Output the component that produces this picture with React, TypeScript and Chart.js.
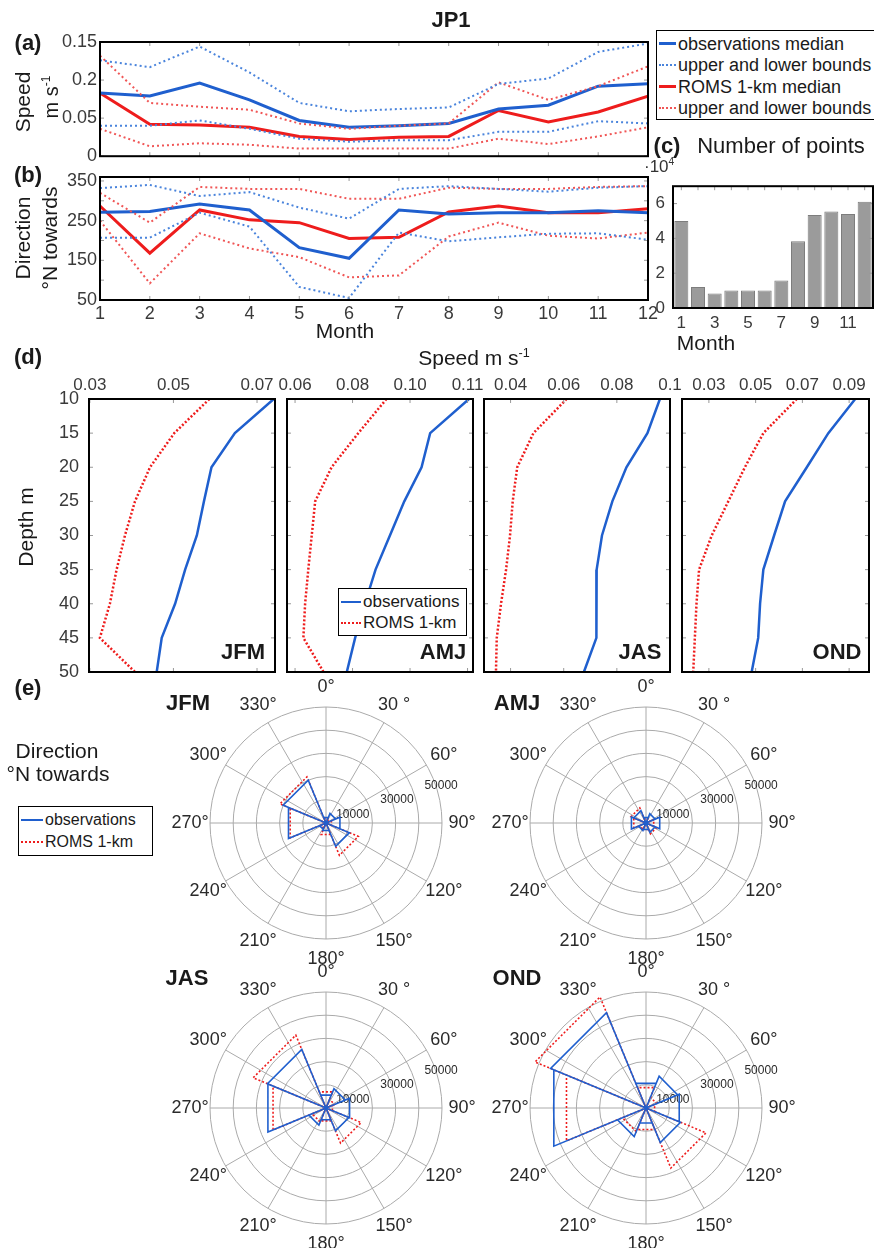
import React, { useEffect, useRef } from 'react';
import { Chart, registerables } from 'chart.js';
Chart.register(...registerables);

const FONT = '"Liberation Sans", Arial, sans-serif';
Chart.defaults.font.family = FONT;
Chart.defaults.color = '#333';

const BLUE = '#1f5fce';
const RED = '#ee1c1c';
const BLUE_DOT = '#4a84dc';
const RED_DOT = '#f05656';

// ---------- (a) speed ----------
const months = [1, 2, 3, 4, 5, 6, 7, 8, 9, 10, 11, 12];
const speedTickValues = [0, 0.05, 0.1, 0.15];
const speedTickLabels = ['0', '0.05', '0.2', '0.15'];
const obsSpeedMedian = [0.083, 0.079, 0.096, 0.074, 0.047, 0.038, 0.040, 0.043, 0.062, 0.067, 0.092, 0.095];
const obsSpeedUpper = [0.126, 0.117, 0.144, 0.110, 0.070, 0.059, 0.062, 0.064, 0.095, 0.102, 0.137, 0.148];
const obsSpeedLower = [0.040, 0.040, 0.047, 0.036, 0.023, 0.019, 0.021, 0.021, 0.032, 0.032, 0.046, 0.043];
const romsSpeedMedian = [0.083, 0.042, 0.041, 0.038, 0.026, 0.022, 0.025, 0.026, 0.060, 0.045, 0.058, 0.079];
const romsSpeedUpper = [0.132, 0.070, 0.065, 0.061, 0.043, 0.036, 0.040, 0.043, 0.097, 0.074, 0.092, 0.118];
const romsSpeedLower = [0.036, 0.013, 0.017, 0.015, 0.010, 0.010, 0.010, 0.010, 0.023, 0.016, 0.026, 0.038];

// ---------- (b) direction ----------
const dirTickValues = [50, 150, 250, 350];
const dirMinorTicks = [100, 200, 300];
const obsDirMedian = [271, 273, 292, 277, 182, 155, 277, 267, 270, 270, 275, 270];
const obsDirUpper = [332, 340, 312, 322, 283, 255, 330, 337, 330, 323, 333, 337];
const obsDirLower = [207, 207, 270, 235, 83, 55, 220, 198, 208, 217, 218, 202];
const romsDirMedian = [287, 168, 277, 252, 245, 205, 208, 272, 287, 270, 270, 280];
const romsDirUpper = [320, 245, 335, 330, 330, 305, 305, 333, 330, 330, 335, 337];
const romsDirLower = [250, 92, 218, 180, 158, 107, 112, 210, 245, 212, 205, 220];

// ---------- (c) number of points ----------
const pointCounts = [50000, 12000, 8300, 10000, 10000, 10000, 15800, 38400, 53500, 55400, 54000, 61000];
const countTickValues = [0, 20000, 40000, 60000];
const countTickLabels = ['0', '2', '4', '6'];

// ---------- (d) depth profiles ----------
const depths = [10, 15, 20, 25, 30, 35, 40, 45, 50];
const jfmObs = [0.0740, 0.0647, 0.0591, 0.0573, 0.0556, 0.0528, 0.0504, 0.0472, 0.0460];
const jfmRoms = [0.0586, 0.0502, 0.0444, 0.0408, 0.0384, 0.0364, 0.0348, 0.0324, 0.0408];
const amjObs = [0.1205, 0.107, 0.104, 0.098, 0.093, 0.088, 0.0843, 0.0809, 0.078];
const amjRoms = [0.0918, 0.082, 0.0727, 0.067, 0.0658, 0.0646, 0.0635, 0.0629, 0.0699];
const jasObs = [0.0962, 0.0915, 0.0836, 0.0783, 0.0744, 0.0724, 0.0724, 0.0722, 0.0676];
const jasRoms = [0.0611, 0.0486, 0.0425, 0.0408, 0.0398, 0.0383, 0.0364, 0.0348, 0.0345];
const ondObs = [0.0926, 0.0811, 0.0719, 0.0626, 0.0579, 0.0533, 0.0519, 0.0511, 0.0483];
const ondRoms = [0.0676, 0.0533, 0.0454, 0.0383, 0.0312, 0.0258, 0.0247, 0.0240, 0.0233];
const jfmSpeedTicks = [0.03, 0.05, 0.07];
const jfmSpeedLabels = ['0.03', '0.05', '0.07'];
const amjSpeedTicks = [0.06, 0.08, 0.10, 0.12];
const amjSpeedLabels = ['0.06', '0.08', '0.10', '0.11'];
const jasSpeedTicks = [0.04, 0.06, 0.08, 0.1];
const jasSpeedLabels = ['0.04', '0.06', '0.08', '0.1'];
const ondSpeedTicks = [0.03, 0.05, 0.07, 0.09];
const ondSpeedLabels = ['0.03', '0.05', '0.07', '0.09'];

// ---------- (e) rose histograms (8 bins, centers 0,45,...,315 deg) ----------
const roseBinCenters = [0, 45, 90, 135, 180, 225, 270, 315];
const jfmRoseObs = [2500, 4500, 6500, 10900, 3500, 3000, 17500, 20000];
const jfmRoseRoms = [2000, 1500, 2500, 15100, 5400, 2500, 16700, 21500];
const amjRoseObs = [2500, 4300, 6400, 4300, 3000, 3500, 6800, 5700];
const amjRoseRoms = [2000, 2000, 3600, 5000, 3000, 3000, 5700, 7000];
const jasRoseObs = [6000, 9000, 11000, 10700, 5500, 8000, 27100, 27300];
const jasRoseRoms = [7500, 4000, 3000, 16400, 6000, 6500, 24700, 34000];
const ondRoseObs = [11500, 14800, 15500, 16100, 7000, 13300, 43000, 44500];
const ondRoseRoms = [9500, 5000, 4000, 28000, 10000, 11000, 37100, 51800];
const roseRings = [10000, 20000, 30000, 40000, 50000];
const roseRingLabels = [10000, 30000, 50000];
const roseSpokes = [0, 30, 60, 90, 120, 150, 180, 210, 240, 270, 300, 330];
const roseAngleLabels = ['0°', '30 °', '60°', '90°', '120°', '150°', '180°', '210°', '240°', '270°', '300°', '330°'];

// ---------- helpers ----------
const fixedWidth = (w: number) => (s: any) => { s.width = w; };
const fixedHeight = (h: number) => (s: any) => { s.height = h; };
const explicitTicks = (vals: number[]) => (s: any) => { s.ticks = vals.map((v) => ({ value: v })); };
const noGrid = { display: false, drawTicks: false };
const noBorder = { display: false };

function framePlugin(opts: { xTicks?: number[]; yTicks?: number[]; len?: number }) {
  return {
    id: 'frame',
    afterDatasetsDraw(chart: any) {
      const { ctx, chartArea: a, scales } = chart;
      const L = opts.len ?? 4;
      ctx.save();
      ctx.strokeStyle = '#999';
      ctx.lineWidth = 1;
      const seg = (x1: number, y1: number, x2: number, y2: number) => {
        ctx.beginPath(); ctx.moveTo(x1, y1); ctx.lineTo(x2, y2); ctx.stroke();
      };
      (opts.xTicks || []).forEach((v) => {
        const px = scales.x.getPixelForValue(v);
        seg(px, a.top, px, a.top + L);
        seg(px, a.bottom, px, a.bottom - L);
      });
      (opts.yTicks || []).forEach((v) => {
        const py = scales.y.getPixelForValue(v);
        seg(a.left, py, a.left + L, py);
        seg(a.right, py, a.right - L, py);
      });
      ctx.strokeStyle = '#000';
      ctx.lineWidth = 2;
      ctx.strokeRect(a.left, a.top, a.right - a.left, a.bottom - a.top);
      ctx.restore();
    },
  };
}

const monthPts = (ys: number[]) => months.map((m, i) => ({ x: m, y: ys[i] }));
const lineDs = (ys: number[], color: string, dotted: boolean) => ({
  data: monthPts(ys),
  borderColor: color,
  borderWidth: dotted ? 2 : 3,
  borderDash: dotted ? [2, 3] : [],
  pointRadius: 0,
  tension: 0,
  fill: false,
});

const baseOpts = {
  animation: false,
  responsive: false,
  events: [],
  plugins: { legend: { display: false }, tooltip: { enabled: false } },
};

function speedConfig(): any {
  return {
    type: 'line',
    data: {
      datasets: [
        lineDs(obsSpeedUpper, BLUE_DOT, true),
        lineDs(obsSpeedLower, BLUE_DOT, true),
        lineDs(romsSpeedUpper, RED_DOT, true),
        lineDs(romsSpeedLower, RED_DOT, true),
        lineDs(obsSpeedMedian, BLUE, false),
        lineDs(romsSpeedMedian, RED, false),
      ],
    },
    options: {
      ...baseOpts,
      layout: { padding: { left: 0, right: 14, top: 18, bottom: 6 } },
      scales: {
        x: { type: 'linear', display: false, min: 1, max: 12 },
        y: {
          min: 0, max: 0.15,
          afterBuildTicks: explicitTicks(speedTickValues),
          afterFit: fixedWidth(60),
          ticks: { padding: 3, font: { size: 18 }, color: '#3a3a3a', callback: (_v: any, i: number) => speedTickLabels[i] },
          grid: noGrid, border: noBorder,
        },
      },
    },
    plugins: [framePlugin({ xTicks: months, yTicks: speedTickValues })],
  };
}

function dirConfig(): any {
  return {
    type: 'line',
    data: {
      datasets: [
        lineDs(obsDirUpper, BLUE_DOT, true),
        lineDs(obsDirLower, BLUE_DOT, true),
        lineDs(romsDirUpper, RED_DOT, true),
        lineDs(romsDirLower, RED_DOT, true),
        lineDs(obsDirMedian, BLUE, false),
        lineDs(romsDirMedian, RED, false),
      ],
    },
    options: {
      ...baseOpts,
      layout: { padding: { left: 0, right: 14, top: 17, bottom: 0 } },
      scales: {
        x: {
          type: 'linear', min: 1, max: 12,
          afterBuildTicks: explicitTicks(months),
          afterFit: fixedHeight(40),
          ticks: { autoSkip: false, maxRotation: 0, padding: 3, font: { size: 18 }, color: '#3a3a3a', callback: (_v: any, i: number) => String(months[i]) },
          grid: noGrid, border: noBorder,
        },
        y: {
          min: 50, max: 360,
          afterBuildTicks: explicitTicks(dirTickValues),
          afterFit: fixedWidth(60),
          ticks: { padding: 3, font: { size: 18 }, color: '#3a3a3a', callback: (_v: any, i: number) => String(dirTickValues[i]) },
          grid: noGrid, border: noBorder,
        },
      },
    },
    plugins: [framePlugin({ xTicks: months, yTicks: [...dirTickValues, ...dirMinorTicks] })],
  };
}

function countConfig(): any {
  return {
    type: 'bar',
    data: {
      labels: months.map(String),
      datasets: [{
        data: pointCounts,
        backgroundColor: '#9b9b9b',
        borderColor: '#7d7d7d',
        borderWidth: 1,
        barPercentage: 0.84,
        categoryPercentage: 1,
      }],
    },
    options: {
      ...baseOpts,
      layout: { padding: { left: 0, right: 1, top: 16, bottom: 0 } },
      scales: {
        x: {
          afterFit: fixedHeight(28),
          ticks: { autoSkip: false, maxRotation: 0, padding: 5, font: { size: 17 }, color: '#3a3a3a', callback: (_v: any, i: number) => (i % 2 === 0 ? String(months[i]) : '') },
          grid: noGrid, border: noBorder,
        },
        y: {
          min: 0, max: 70000,
          afterBuildTicks: explicitTicks(countTickValues),
          afterFit: fixedWidth(43),
          ticks: { padding: 8, font: { size: 17 }, color: '#3a3a3a', callback: (_v: any, i: number) => countTickLabels[i] },
          grid: noGrid, border: noBorder,
        },
      },
    },
    plugins: [framePlugin({ xTicks: months.map((_m, i) => i), yTicks: countTickValues })],
  };
}

function depthConfig(obs: number[], roms: number[], min: number, max: number, ticks: number[], labels: string[], showY: boolean): any {
  const prof = (vals: number[]) => depths.map((d, i) => ({ x: vals[i], y: d }));
  return {
    type: 'line',
    data: {
      datasets: [
        { data: prof(obs), borderColor: BLUE, borderWidth: 2.5, pointRadius: 0, tension: 0, fill: false },
        { data: prof(roms), borderColor: RED, borderWidth: 2.5, borderDash: [2, 2], pointRadius: 0, tension: 0, fill: false },
      ],
    },
    options: {
      ...baseOpts,
      layout: { padding: { left: showY ? 0 : 22, right: 22, top: 0, bottom: 22 } },
      scales: {
        x: {
          type: 'linear', position: 'top', min, max,
          afterBuildTicks: explicitTicks(ticks),
          afterFit: fixedHeight(29),
          ticks: { autoSkip: false, maxRotation: 0, padding: 3, font: { size: 17 }, color: '#3a3a3a', callback: (_v: any, i: number) => labels[i] },
          grid: noGrid, border: noBorder,
        },
        y: showY ? {
          min: 10, max: 50, reverse: true,
          afterBuildTicks: explicitTicks(depths),
          afterFit: fixedWidth(49),
          ticks: { padding: 10, font: { size: 18 }, color: '#3a3a3a', callback: (_v: any, i: number) => String(depths[i]) },
          grid: noGrid, border: noBorder,
        } : { min: 10, max: 50, reverse: true, display: false },
      },
    },
    plugins: [framePlugin({ xTicks: ticks, yTicks: depths })],
  };
}

// rose geometry
const ROSE_MAX = 50000;
const ROSE_R_PX = 116;
const ROSE_W = 340;
const ROSE_H = 320;

function rosePath(counts: number[]) {
  const pts: { x: number; y: number }[] = [{ x: 0, y: 0 }];
  counts.forEach((r, i) => {
    const a1 = ((roseBinCenters[i] - 22.5) * Math.PI) / 180;
    const a2 = ((roseBinCenters[i] + 22.5) * Math.PI) / 180;
    pts.push({ x: r * Math.sin(a1), y: r * Math.cos(a1) }, { x: r * Math.sin(a2), y: r * Math.cos(a2) }, { x: 0, y: 0 });
  });
  return pts;
}

function polarGridPlugin() {
  return {
    id: 'polarGrid',
    beforeDatasetsDraw(chart: any) {
      const { ctx, scales: { x, y } } = chart;
      const cx = x.getPixelForValue(0);
      const cy = y.getPixelForValue(0);
      const rOf = (v: number) => x.getPixelForValue(v) - cx;
      ctx.save();
      ctx.strokeStyle = '#aaaaaa';
      ctx.lineWidth = 1;
      roseRings.forEach((v) => { ctx.beginPath(); ctx.arc(cx, cy, rOf(v), 0, Math.PI * 2); ctx.stroke(); });
      const R = rOf(ROSE_MAX);
      roseSpokes.forEach((a) => {
        const t = (a * Math.PI) / 180;
        ctx.beginPath(); ctx.moveTo(cx, cy); ctx.lineTo(cx + R * Math.sin(t), cy - R * Math.cos(t)); ctx.stroke();
      });
      ctx.fillStyle = '#2a2a2a';
      ctx.textAlign = 'center';
      ctx.textBaseline = 'middle';
      ctx.font = `18px ${FONT}`;
      roseSpokes.forEach((a, i) => {
        const t = (a * Math.PI) / 180;
        const rr = R + 20;
        ctx.fillText(roseAngleLabels[i], cx + rr * Math.sin(t), cy - rr * Math.cos(t));
      });
      ctx.font = `12px ${FONT}`;
      const lt = (72 * Math.PI) / 180;
      roseRingLabels.forEach((v) => {
        const rr = rOf(v) + 5;
        ctx.fillText(String(v), cx + rr * Math.sin(lt), cy - rr * Math.cos(lt));
      });
      ctx.restore();
    },
  };
}

function roseConfig(obs: number[], roms: number[]): any {
  const xHalf = (ROSE_W / 2) * (ROSE_MAX / ROSE_R_PX);
  const yHalf = (ROSE_H / 2) * (ROSE_MAX / ROSE_R_PX);
  return {
    type: 'scatter',
    data: {
      datasets: [
        { data: rosePath(obs), showLine: true, borderColor: BLUE, borderWidth: 1.6, pointRadius: 0, tension: 0, fill: false },
        { data: rosePath(roms), showLine: true, borderColor: RED, borderWidth: 1.6, borderDash: [2, 2], pointRadius: 0, tension: 0, fill: false },
      ],
    },
    options: {
      ...baseOpts,
      layout: { padding: 0 },
      scales: {
        x: { type: 'linear', display: false, min: -xHalf, max: xHalf },
        y: { type: 'linear', display: false, min: -yHalf, max: yHalf },
      },
    },
    plugins: [polarGridPlugin()],
  };
}

// ---------- components ----------
function ChartCanvas({ left, top, width, height, make }: { left: number; top: number; width: number; height: number; make: () => any }) {
  const ref = useRef<HTMLCanvasElement>(null);
  useEffect(() => {
    const chart = new Chart(ref.current as HTMLCanvasElement, make());
    return () => chart.destroy();
  }, []);
  return <canvas ref={ref} width={width} height={height} style={{ position: 'absolute', left, top, width, height }} />;
}

function Txt({ x, y, size = 21, bold = false, rotate = false, color = '#1a1a1a', children }: any) {
  return (
    <div
      style={{
        position: 'absolute', left: x, top: y,
        transform: `translate(-50%, -50%)${rotate ? ' rotate(-90deg)' : ''}`,
        fontFamily: FONT, fontSize: size, fontWeight: bold ? 'bold' : 'normal',
        whiteSpace: 'nowrap', lineHeight: 1, color,
      }}
    >
      {children}
    </div>
  );
}

function Legend({ left, top, width, height, size, rowH, sampleW, items }: any) {
  return (
    <div style={{ position: 'absolute', left, top, width, height, boxSizing: 'border-box', border: '1.5px solid #000', background: '#fff', paddingTop: 2 }}>
      {items.map((it: any, i: number) => (
        <div key={i} style={{ display: 'flex', alignItems: 'center', height: rowH, paddingLeft: 2 }}>
          <span style={{ display: 'inline-block', width: sampleW, borderTop: `${it.w}px ${it.dotted ? 'dotted' : 'solid'} ${it.color}`, marginRight: 2 }} />
          <span style={{ fontFamily: FONT, fontSize: size, color: '#1a1a1a', whiteSpace: 'nowrap', lineHeight: 1 }}>{it.label}</span>
        </div>
      ))}
    </div>
  );
}

const sup = (s: string) => <sup style={{ fontSize: '0.6em', verticalAlign: 'super', lineHeight: 0 }}>{s}</sup>;

export default function App() {
  const depthBoxes = [
    { name: 'JFM', bx0: 89, bx1: 275, obs: jfmObs, roms: jfmRoms, min: 0.0298, max: 0.0743, ticks: jfmSpeedTicks, labels: jfmSpeedLabels, showY: true, lx: 243 },
    { name: 'AMJ', bx0: 287, bx1: 473, obs: amjObs, roms: amjRoms, min: 0.0572, max: 0.1219, ticks: amjSpeedTicks, labels: amjSpeedLabels, showY: false, lx: 443 },
    { name: 'JAS', bx0: 484, bx1: 670, obs: jasObs, roms: jasRoms, min: 0.03, max: 0.1, ticks: jasSpeedTicks, labels: jasSpeedLabels, showY: false, lx: 640 },
    { name: 'OND', bx0: 682, bx1: 869, obs: ondObs, roms: ondRoms, min: 0.0185, max: 0.0985, ticks: ondSpeedTicks, labels: ondSpeedLabels, showY: false, lx: 837 },
  ];
  const roses = [
    { name: 'JFM', cx: 325.7, cy: 823.3, obs: jfmRoseObs, roms: jfmRoseRoms, lx: 188, ly: 703 },
    { name: 'AMJ', cx: 645.7, cy: 823.3, obs: amjRoseObs, roms: amjRoseRoms, lx: 517, ly: 703 },
    { name: 'JAS', cx: 325.7, cy: 1108.3, obs: jasRoseObs, roms: jasRoseRoms, lx: 187, ly: 978 },
    { name: 'OND', cx: 645.7, cy: 1108.3, obs: ondRoseObs, roms: ondRoseRoms, lx: 517, ly: 978 },
  ];
  return (
    <div style={{ position: 'absolute', left: 0, top: 0, width: 874, height: 1248, overflow: 'hidden', background: '#fff' }}>
      {/* (a) and (b) */}
      <ChartCanvas left={40} top={24} width={622} height={146} make={speedConfig} />
      <ChartCanvas left={40} top={160} width={622} height={180} make={dirConfig} />
      <Txt x={451} y={20} size={22} bold>JP1</Txt>
      <Txt x={28} y={43} size={22} bold>(a)</Txt>
      <Txt x={22} y={102} size={21} rotate>Speed</Txt>
      <Txt x={51} y={97} size={20} rotate>m s{sup('-1')}</Txt>
      <Txt x={28} y={175} size={22} bold>(b)</Txt>
      <Txt x={22} y={238} size={21} rotate>Direction</Txt>
      <Txt x={49} y={238} size={21} rotate>°N towards</Txt>
      <Txt x={345} y={330} size={21}>Month</Txt>
      <Legend
        left={656} top={30} width={220} height={90} size={18} rowH={21.5} sampleW={17}
        items={[
          { label: 'observations median', color: BLUE, w: 3, dotted: false },
          { label: 'upper and lower bounds', color: BLUE_DOT, w: 2, dotted: true },
          { label: 'ROMS 1-km median', color: RED, w: 3, dotted: false },
          { label: 'upper and lower bounds', color: RED_DOT, w: 2, dotted: true },
        ]}
      />

      {/* (c) */}
      <ChartCanvas left={630} top={168} width={244} height={168} make={countConfig} />
      <Txt x={667} y={146} size={22} bold>(c)</Txt>
      <Txt x={781} y={146} size={22}>Number of points</Txt>
      <div style={{ position: 'absolute', left: 644, top: 158, fontFamily: FONT, fontSize: 17, lineHeight: 1, color: '#333', whiteSpace: 'nowrap' }}>
        ·10{sup('4')}
      </div>
      <Txt x={706} y={342} size={21}>Month</Txt>

      {/* (d) */}
      <Txt x={28} y={357} size={22} bold>(d)</Txt>
      <Txt x={474} y={357} size={21}>Speed m s{sup('-1')}</Txt>
      <Txt x={25} y={527} size={21} rotate>Depth m</Txt>
      {depthBoxes.map((b) => {
        const padL = b.showY ? 49 : 22;
        const left = b.bx0 - padL;
        const width = (b.bx1 - b.bx0) + padL + 22;
        return (
          <ChartCanvas
            key={b.name} left={left} top={370} width={width} height={324}
            make={() => depthConfig(b.obs, b.roms, b.min, b.max, b.ticks, b.labels, b.showY)}
          />
        );
      })}
      {depthBoxes.map((b) => (
        <Txt key={'l' + b.name} x={b.lx} y={652} size={22} bold>{b.name}</Txt>
      ))}
      <Legend
        left={338} top={588} width={129} height={48} size={17} rowH={21} sampleW={20}
        items={[
          { label: 'observations', color: BLUE, w: 2.5, dotted: false },
          { label: 'ROMS 1-km', color: RED, w: 2.5, dotted: true },
        ]}
      />

      {/* (e) */}
      <Txt x={28} y={688} size={22} bold>(e)</Txt>
      <Txt x={57} y={750} size={21}>Direction</Txt>
      <Txt x={58} y={773} size={21}>°N towards</Txt>
      <Legend
        left={18} top={806} width={135} height={50} size={16} rowH={22} sampleW={22}
        items={[
          { label: 'observations', color: BLUE, w: 2.5, dotted: false },
          { label: 'ROMS 1-km', color: RED, w: 2.5, dotted: true },
        ]}
      />
      {roses.map((r) => (
        <ChartCanvas
          key={r.name} left={r.cx - ROSE_W / 2} top={r.cy - ROSE_H / 2} width={ROSE_W} height={ROSE_H}
          make={() => roseConfig(r.obs, r.roms)}
        />
      ))}
      {roses.map((r) => (
        <Txt key={'t' + r.name} x={r.lx} y={r.ly} size={22} bold>{r.name}</Txt>
      ))}
    </div>
  );
}
